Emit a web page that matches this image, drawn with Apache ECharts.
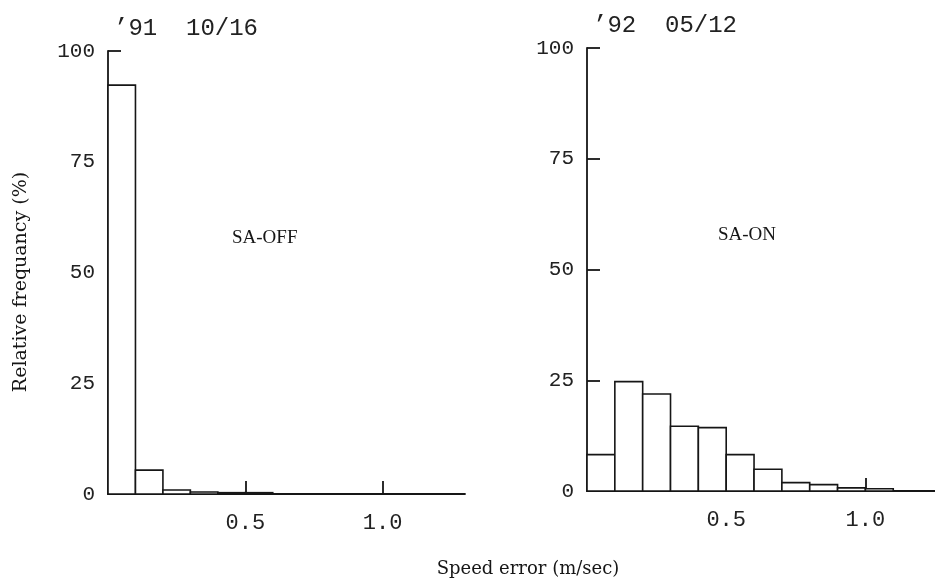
<!DOCTYPE html>
<html>
<head>
<meta charset="utf-8">
<script src="https://cdn.jsdelivr.net/npm/echarts@6/dist/echarts.min.js"></script>
<style>
  html, body { margin: 0; padding: 0; background: #fff; }
  #chart { width: 935px; height: 582px; }
</style>
</head>
<body>
<div id="chart"></div>
<script>
// Histogram bin edges for the speed error (m/sec)
const binEdges = [0, 0.1, 0.2, 0.3, 0.4, 0.5, 0.6, 0.7, 0.8, 0.9, 1.0, 1.1, 1.2, 1.3];

// Relative frequency (%) per bin
const saOffFreq = [92.3, 5.4, 0.9, 0.45, 0.3, 0.3, 0, 0, 0, 0, 0, 0, 0];
const saOnFreq  = [8.2, 24.7, 21.9, 14.6, 14.3, 8.2, 4.9, 1.9, 1.45, 0.7, 0.5, 0, 0];

// Axis ticks
const yTicks = [0, 25, 50, 75, 100];
const xTickValues = [0.5, 1.0];

// Panel captions and axis titles
const leftCaption = '\u201991  10/16';
const rightCaption = '\u201992  05/12';
const leftMode = 'SA-OFF';
const rightMode = 'SA-ON';
const yTitle = 'Relative frequancy (%)';
const xTitle = 'Speed error (m/sec)';

const monoFont = '"Liberation Mono", "DejaVu Sans Mono", monospace';
const modeFont = '"Liberation Serif", serif';
const titleFont = '"DejaVu Serif", "Liberation Serif", serif';
const ink = '#161616';

function toBins(values) {
  const rows = [];
  values.forEach((v, i) => {
    if (v > 0) rows.push([binEdges[i], binEdges[i + 1], v]);
  });
  return rows;
}

function renderBin(params, api) {
  const lo = api.coord([api.value(0), 0]);
  const hi = api.coord([api.value(1), api.value(2)]);
  return {
    type: 'rect',
    shape: { x: lo[0], y: hi[1], width: hi[0] - lo[0], height: lo[1] - hi[1] },
    style: { fill: '#fff', stroke: ink, lineWidth: 1.6 }
  };
}

function xAxisFor(gridIndex, max) {
  return {
    type: 'value', gridIndex, min: 0, max,
    axisLine: { show: true, onZero: false, lineStyle: { color: ink, width: 1.8 } },
    axisTick: { show: true, inside: true, length: 13, customValues: xTickValues,
                lineStyle: { color: ink, width: 1.8 } },
    axisLabel: { show: true, customValues: xTickValues, margin: 18,
                 formatter: v => v.toFixed(1),
                 fontFamily: monoFont, fontSize: 22, color: '#222' },
    splitLine: { show: false }
  };
}

function yAxisFor(gridIndex) {
  return {
    type: 'value', gridIndex, min: 0, max: 100, interval: 25,
    axisLine: { show: true, onZero: false, lineStyle: { color: ink, width: 1.8 } },
    axisTick: { show: true, inside: true, length: 13, lineStyle: { color: ink, width: 1.8 } },
    axisLabel: { show: true, margin: 13, fontFamily: monoFont, fontSize: 21, color: '#222',
                 formatter: v => yTicks.includes(v) ? String(v) : '' },
    splitLine: { show: false }
  };
}

const chart = echarts.init(document.getElementById('chart'), null, { renderer: 'canvas' });

chart.setOption({
  backgroundColor: '#fff',
  animation: false,
  title: [
    { text: leftCaption, left: 109, top: 12,
      textStyle: { fontFamily: monoFont, fontSize: 24, fontWeight: 'normal', color: '#222' } },
    { text: rightCaption, left: 588, top: 9,
      textStyle: { fontFamily: monoFont, fontSize: 24, fontWeight: 'normal', color: '#222' } }
  ],
  grid: [
    { left: 108, top: 51, width: 357, height: 443 },
    { left: 587, top: 48, width: 348, height: 443 }
  ],
  xAxis: [xAxisFor(0, 1.3), xAxisFor(1, 1.25)],
  yAxis: [yAxisFor(0), yAxisFor(1)],
  series: [
    { type: 'custom', xAxisIndex: 0, yAxisIndex: 0, renderItem: renderBin,
      encode: { x: [0, 1], y: 2 }, data: toBins(saOffFreq), z: 1 },
    { type: 'custom', xAxisIndex: 1, yAxisIndex: 1, renderItem: renderBin,
      encode: { x: [0, 1], y: 2 }, data: toBins(saOnFreq), z: 1 }
  ],
  graphic: [
    { type: 'text', left: 232, top: 229,
      style: { text: leftMode, font: '19px ' + modeFont, fill: ink } },
    { type: 'text', left: 718, top: 226,
      style: { text: rightMode, font: '19px ' + modeFont, fill: ink } },
    { type: 'text', x: 21, y: 282, rotation: Math.PI / 2,
      style: { text: yTitle, font: '19px ' + titleFont, fill: ink,
               textAlign: 'center', textVerticalAlign: 'middle' } },
    { type: 'text', x: 528, y: 569,
      style: { text: xTitle, font: '18px ' + titleFont, fill: ink,
               textAlign: 'center', textVerticalAlign: 'middle' } }
  ]
});
</script>
</body>
</html>
